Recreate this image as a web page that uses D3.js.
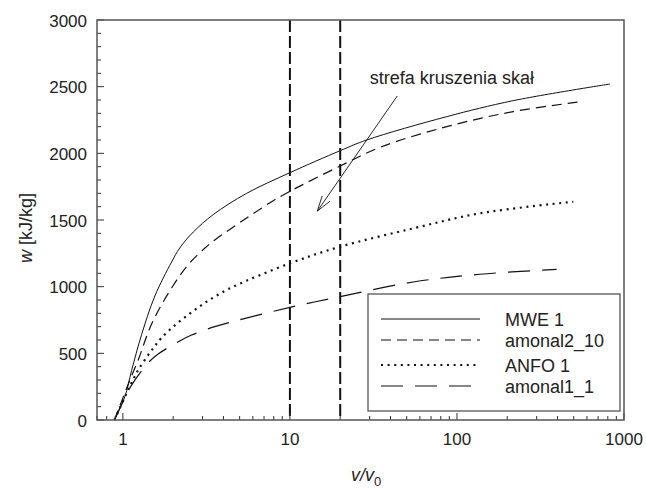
<!DOCTYPE html>
<html><head><meta charset="utf-8">
<script src="https://cdn.jsdelivr.net/npm/d3@7"></script>
<style>body{margin:0;background:#fff}svg{display:block}text{font-family:"Liberation Sans",Arial,sans-serif;fill:#222}</style>
</head><body><svg id="c" width="646" height="492"></svg>
<script>
const seriesNames = ["MWE 1", "amonal2_10", "ANFO 1", "amonal1_1"];
const mwe1 = [[0.89,0],[1.028,175],[1.127,370],[1.294,640],[1.554,930],[1.957,1185],[2.19,1290],[2.64,1410],[3.47,1540],[5.51,1700],[10,1855],[20,2020],[28.8,2100],[86.8,2275],[217,2395],[824,2520]];
const amonal2_10 = [[0.89,0],[1.101,300],[1.235,450],[1.486,720],[1.957,990],[2.46,1165],[3.1,1290],[3.55,1350],[5.51,1515],[7.95,1645],[10,1715],[20,1905],[34.6,2045],[86.8,2200],[217,2313],[558,2388]];
const anfo1 = [[0.89,0],[1.052,200],[1.153,305],[1.235,375],[1.386,470],[1.554,555],[1.69,612],[2.0,700],[2.41,780],[2.96,862],[3.55,925],[4.58,1000],[10,1175],[20,1300],[54.7,1437],[137,1550],[497,1637]];
const amonal1_1 = [[0.89,0],[1.02,160],[1.127,262],[1.419,430],[1.627,495],[2.246,600],[2.58,637],[3.55,700],[10,845],[20,925],[54.7,1035],[137,1093],[395,1130]];
const xTicks = [1, 10, 100, 1000];
const yTicks = [0, 500, 1000, 1500, 2000, 2500, 3000];
const zoneBounds = [10, 20];
const annotation = {text: "strefa kruszenia skał", tx: 30.1, ty: 2520, ax0: 43.9, ay0: 2430, ax1: 14.6, ay1: 1567};

const svg = d3.select("#c");
const L = 97, R = 624, T = 20, B = 420;
const x = d3.scaleLog().domain([0.7, 1000]).range([L, R]);
const y = d3.scaleLinear().domain([0, 3000]).range([B, T]);

const styles = [
  {dash: null, w: 1},
  {dash: "10,6", w: 1.2},
  {dash: "2,4.6", w: 2.2},
  {dash: "22,12", w: 1.2}
];
const data = [mwe1, amonal2_10, anfo1, amonal1_1];

svg.selectAll(".zone").data(zoneBounds).join("line")
  .attr("x1", d => x(d)).attr("x2", d => x(d)).attr("y1", T).attr("y2", B)
  .attr("stroke", "#111").attr("stroke-width", 2).attr("stroke-dasharray", "12,4");

const line = d3.line().x(d => x(d[0])).y(d => y(d[1])).curve(d3.curveCatmullRom.alpha(0.5));
data.forEach((s, i) => {
  svg.append("path").attr("d", line(s)).attr("fill", "none").attr("stroke", "#111")
    .attr("stroke-width", styles[i].w).attr("stroke-dasharray", styles[i].dash)
    .attr("stroke-linecap", "butt");
});

const minorX = [];
[0.1, 1, 10, 100].forEach(d => { for (let k = 2; k <= 9; k++) { const v = d * k; if (v >= 0.7 && v <= 1000) minorX.push(v); } });
svg.selectAll(".mx").data(minorX).join("line")
  .attr("x1", d => x(d)).attr("x2", d => x(d)).attr("y1", B).attr("y2", B - 4)
  .attr("stroke", "#333").attr("stroke-width", 1);
svg.selectAll(".Mx").data(xTicks).join("line")
  .attr("x1", d => x(d)).attr("x2", d => x(d)).attr("y1", B).attr("y2", B - 7)
  .attr("stroke", "#333").attr("stroke-width", 1);
svg.selectAll(".xl").data(xTicks).join("text")
  .attr("x", d => x(d)).attr("y", 445).attr("text-anchor", "middle").attr("font-size", 17).text(d => d);
const minorY = d3.range(100, 3000, 100).filter(v => v % 500 !== 0);
svg.selectAll(".my").data(minorY).join("line")
  .attr("x1", L).attr("x2", L + 4).attr("y1", d => y(d)).attr("y2", d => y(d))
  .attr("stroke", "#333").attr("stroke-width", 1);
svg.selectAll(".My").data(yTicks).join("line")
  .attr("x1", L).attr("x2", L + 7).attr("y1", d => y(d)).attr("y2", d => y(d))
  .attr("stroke", "#333").attr("stroke-width", 1);
svg.selectAll(".yl").data(yTicks).join("text")
  .attr("x", 87).attr("y", d => y(d) + 6.5).attr("text-anchor", "end").attr("font-size", 17).text(d => d);

svg.append("rect").attr("x", L).attr("y", T).attr("width", R - L).attr("height", B - T)
  .attr("fill", "none").attr("stroke", "#555").attr("stroke-width", 1.5);

svg.append("text").attr("x", x(annotation.tx)).attr("y", y(annotation.ty)).attr("font-size", 18).text(annotation.text);
const ax0 = x(annotation.ax0), ay0 = y(annotation.ay0), ax1 = x(annotation.ax1), ay1 = y(annotation.ay1);
svg.append("line").attr("x1", ax0).attr("y1", ay0).attr("x2", ax1).attr("y2", ay1).attr("stroke", "#111").attr("stroke-width", 0.9);
const ang = Math.atan2(ay1 - ay0, ax1 - ax0), hl = 16, ha = 0.3;
const head = [[ax1 - hl * Math.cos(ang - ha), ay1 - hl * Math.sin(ang - ha)], [ax1, ay1], [ax1 - hl * Math.cos(ang + ha), ay1 - hl * Math.sin(ang + ha)]];
svg.append("path").attr("d", d3.line()(head)).attr("fill", "none").attr("stroke", "#111").attr("stroke-width", 0.9);

svg.append("rect").attr("x", 368).attr("y", 294).attr("width", 252).attr("height", 117)
  .attr("fill", "#fff").attr("stroke", "#555").attr("stroke-width", 1.3);
const ly = [319, 340, 365, 386];
seriesNames.forEach((n, i) => {
  svg.append("line").attr("x1", 381).attr("x2", 480).attr("y1", ly[i]).attr("y2", ly[i])
    .attr("stroke", "#111").attr("stroke-width", styles[i].w).attr("stroke-dasharray", styles[i].dash);
  svg.append("text").attr("x", 505).attr("y", ly[i] + 6.5).attr("font-size", 18).text(n);
});

const yt = svg.append("text").attr("transform", "translate(32,228) rotate(-90)").attr("text-anchor", "middle").attr("font-size", 18);
yt.append("tspan").attr("font-style", "italic").text("w");
yt.append("tspan").text(" [kJ/kg]");
const xt = svg.append("text").attr("x", 366).attr("y", 481).attr("text-anchor", "middle").attr("font-size", 18).attr("font-style", "italic");
xt.append("tspan").text("v/v");
xt.append("tspan").attr("font-size", 13).attr("dy", 5).attr("font-style", "normal").text("0");
</script></body></html>
